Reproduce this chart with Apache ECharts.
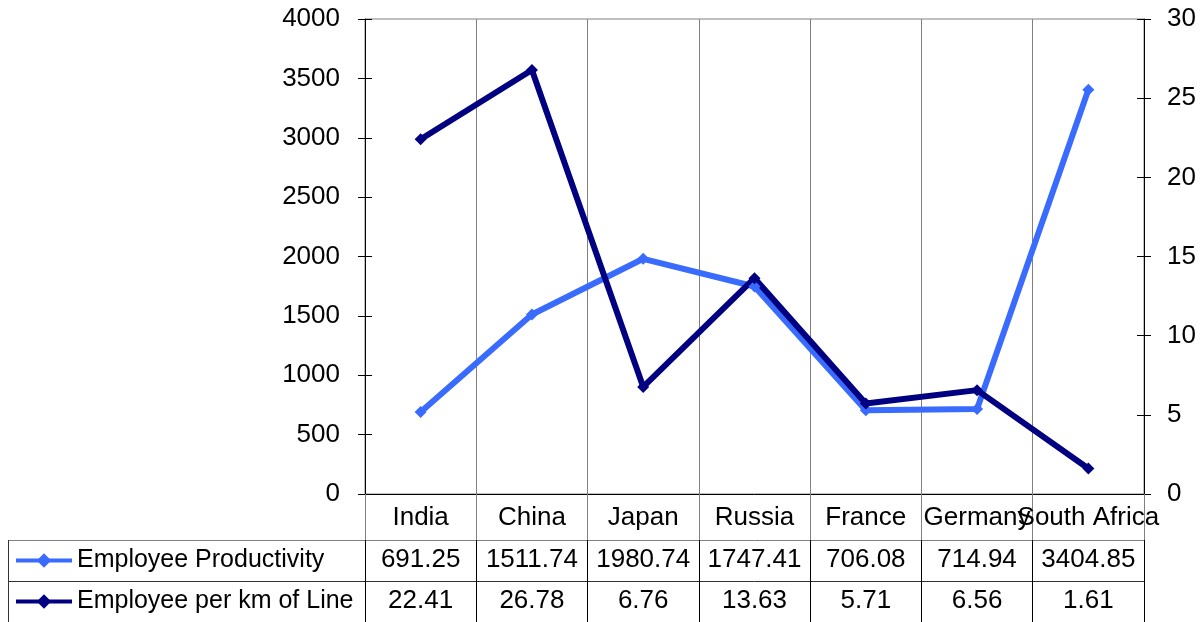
<!DOCTYPE html>
<html>
<head>
<meta charset="utf-8">
<script src="https://cdn.jsdelivr.net/npm/echarts@6/dist/echarts.min.js"></script>
<style>
  html, body { margin: 0; padding: 0; background: #fff; }
  #chart { width: 1203px; height: 622px; }
</style>
</head>
<body>
<div id="chart"></div>
<script>
// Data
const countries = ['India', 'China', 'Japan', 'Russia', 'France', 'Germany', 'South Africa'];
const productivity = [691.25, 1511.74, 1980.74, 1747.41, 706.08, 714.94, 3404.85];
const perKm = [22.41, 26.78, 6.76, 13.63, 5.71, 6.56, 1.61];
const seriesNames = ['Employee Productivity', 'Employee per km of Line'];
const leftScale = { min: 0, max: 4000, interval: 500 };
const rightScale = { min: 0, max: 30, interval: 5 };

// Layout
const W = 1203, H = 622;
const plot = { left: 365, right: 1144, top: 19, bottom: 494 };
const row1Top = 540, row2Top = 581, tableLeft = 8;
const FONT = 'Liberation Sans, Arial, sans-serif';
const FS = 26;
const colors = ['#3A6BFF', '#000080'];

const chart = echarts.init(document.getElementById('chart'), null, { renderer: 'canvas' });

const labelStyle = { fontFamily: FONT, fontSize: FS, color: '#000', lineHeight: FS };

function tableAxis(values, offset, lineColor, tickLen) {
  return {
    type: 'category',
    data: countries,
    position: 'bottom',
    offset: offset,
    boundaryGap: true,
    axisLine: { show: true, onZero: false, lineStyle: { color: lineColor, width: 1 } },
    axisTick: { show: true, interval: 0, length: tickLen,
                lineStyle: { color: '#000', width: 1 } },
    axisLabel: Object.assign({ interval: 0, margin: 7,
      formatter: (v, i) => values[i].toFixed(2) }, labelStyle),
    splitLine: { show: false }
  };
}

function yAxisPair(scale, pos, margin) {
  return [
    {
      type: 'value', position: pos, min: scale.min, max: scale.max, interval: scale.interval,
      axisLine: { show: true, onZero: false, lineStyle: { color: '#000', width: 1 } },
      axisTick: { show: true, length: 7, lineStyle: { color: '#000' } },
      axisLabel: Object.assign({ margin: margin, formatter: v => String(v) }, labelStyle),
      splitLine: { show: false }
    },
    {
      // inner half of the crossing tick marks
      type: 'value', position: pos, min: scale.min, max: scale.max, interval: scale.interval,
      axisLine: { show: false, onZero: false },
      axisTick: { show: true, inside: true, length: 7, lineStyle: { color: '#000' } },
      axisLabel: { show: false },
      splitLine: { show: false }
    }
  ];
}

const [yLeft, yLeftInner] = yAxisPair(leftScale, 'left', 25);
const [yRight, yRightInner] = yAxisPair(rightScale, 'right', 23);

function legendFor(name, top) {
  return {
    data: [name], orient: 'vertical', left: 14, top: top, padding: 0,
    itemWidth: 56, itemHeight: 18, itemGap: 0,
    lineStyle: { width: 4 },
    textStyle: Object.assign({}, labelStyle, { fontSize: 25, lineHeight: 25 })
  };
}

const option = {
  backgroundColor: '#fff',
  animation: false,
  textStyle: { fontFamily: FONT },
  grid: {
    left: plot.left, right: W - plot.right, top: plot.top, bottom: H - plot.bottom,
    containLabel: false, outerBoundsMode: 'none',
    show: true, borderColor: '#808080', borderWidth: 1, backgroundColor: 'transparent'
  },
  legend: [
    legendFor(seriesNames[0], row1Top + 8),
    legendFor(seriesNames[1], row2Top + 8)
  ],
  xAxis: [
    {
      type: 'category', data: countries, position: 'bottom', boundaryGap: true,
      axisLine: { show: true, onZero: false, lineStyle: { color: '#000', width: 1 } },
      axisTick: { show: true, interval: 0, length: row1Top - plot.bottom,
                  lineStyle: { color: '#808080', width: 1 } },
      axisLabel: Object.assign({ interval: 0, margin: 11 }, labelStyle),
      splitLine: { show: true, interval: 0, lineStyle: { color: '#808080', width: 1 } }
    },
    tableAxis(productivity, row1Top - plot.bottom, '#808080', row2Top - row1Top),
    tableAxis(perKm, row2Top - plot.bottom, '#333', H - row2Top)
  ],
  yAxis: [yLeft, yRight, yLeftInner, yRightInner],
  series: [
    {
      name: seriesNames[0], type: 'line', data: productivity,
      xAxisIndex: 0, yAxisIndex: 0,
      symbol: 'diamond', symbolSize: 12, showSymbol: true,
      lineStyle: { color: colors[0], width: 6 },
      itemStyle: { color: colors[0] },
      emphasis: { disabled: true }
    },
    {
      name: seriesNames[1], type: 'line', data: perKm,
      xAxisIndex: 0, yAxisIndex: 1,
      symbol: 'diamond', symbolSize: 12, showSymbol: true,
      lineStyle: { color: colors[1], width: 6 },
      itemStyle: { color: colors[1] },
      emphasis: { disabled: true }
    }
  ],
  graphic: [
    // legend column borders of the data table
    { type: 'line', shape: { x1: tableLeft, y1: row1Top + 0.5, x2: plot.left, y2: row1Top + 0.5 },
      style: { stroke: '#808080', lineWidth: 1 }, silent: true },
    { type: 'line', shape: { x1: tableLeft, y1: row2Top + 0.5, x2: plot.left, y2: row2Top + 0.5 },
      style: { stroke: '#333', lineWidth: 1 }, silent: true },
    { type: 'line', shape: { x1: tableLeft + 0.5, y1: row1Top, x2: tableLeft + 0.5, y2: H },
      style: { stroke: '#333', lineWidth: 1 }, silent: true }
  ]
};

chart.setOption(option);
</script>
</body>
</html>
